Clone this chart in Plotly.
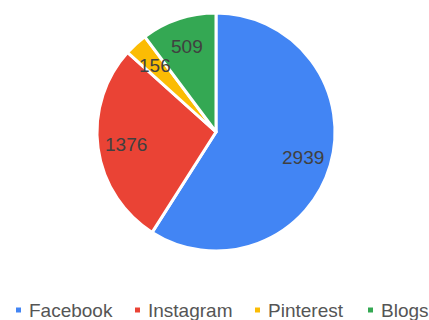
import math
import plotly.graph_objects as go

categories = ["Facebook", "Instagram", "Pinterest", "Blogs"]
values = [2939, 1376, 156, 509]
colors = ["#4285F4", "#EA4335", "#FBBC04", "#34A853"]

W, H = 429, 320
CX, CY, R = 216, 132, 119
FONT = "Arial, Liberation Sans"

fig = go.Figure()
fig.add_trace(go.Pie(
    labels=categories, values=values, sort=False, direction="clockwise", rotation=0,
    marker=dict(colors=colors, line=dict(color="white", width=3)),
    textinfo="none", showlegend=False, hoverinfo="label+value+percent",
    domain=dict(x=[(CX - R) / W, (CX + R) / W], y=[1 - (CY + R) / H, 1 - (CY - R) / H]),
))

# value labels placed at the mid-angle of each slice (computed from the values)
total = sum(values)
cum = 0
label_r = 0.76 * R
for v in values:
    mid = (cum + v / 2) / total * 2 * math.pi
    cum += v
    px = CX + label_r * math.sin(mid)
    py = CY - label_r * math.cos(mid)
    fig.add_annotation(
        x=px / W, y=1 - py / H, xref="paper", yref="paper",
        xanchor="center", yanchor="middle", showarrow=False,
        text=str(v), font=dict(family=FONT, size=19, color="#404040"),
    )

# custom legend: small squares + labels
leg_x = [16, 135, 255, 368]
LEG_Y = 310
for name, col, x in zip(categories, colors, leg_x):
    fig.add_shape(type="rect", xref="paper", yref="paper",
                  x0=x / W, x1=(x + 5) / W, y0=1 - (LEG_Y + 2.5) / H, y1=1 - (LEG_Y - 2.5) / H,
                  fillcolor=col, line=dict(width=0))
    fig.add_annotation(
        x=(x + 11) / W, y=1 - (LEG_Y + 0.5) / H, xref="paper", yref="paper",
        xanchor="left", yanchor="middle", showarrow=False,
        text=name, font=dict(family=FONT, size=19, color="#555555"),
    )

fig.update_layout(width=W, height=H, margin=dict(l=0, r=0, t=0, b=0),
                  paper_bgcolor="white", plot_bgcolor="white")
fig.write_html("out.html")
